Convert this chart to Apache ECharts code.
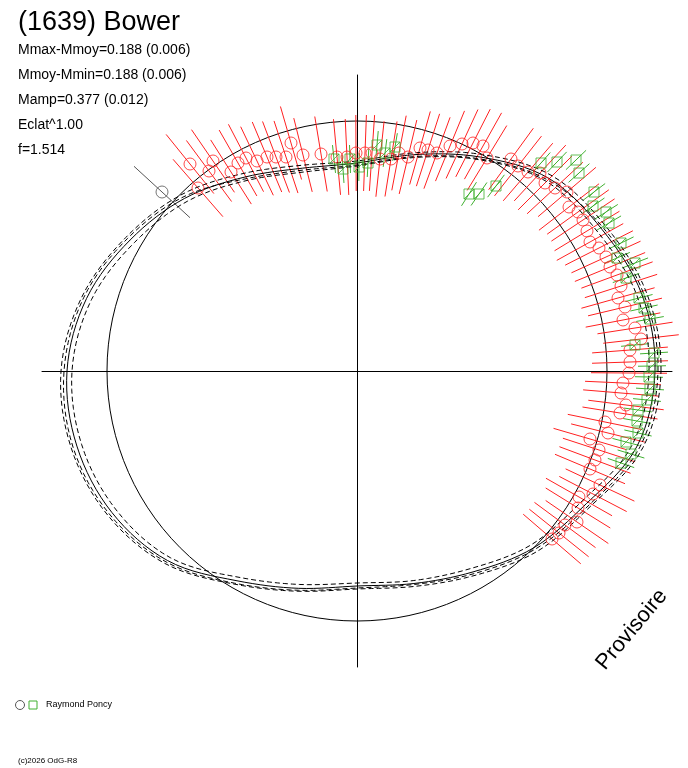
<!DOCTYPE html>
<html><head><meta charset="utf-8">
<script src="https://cdn.jsdelivr.net/npm/echarts@6/dist/echarts.min.js"></script>
<style>html,body{margin:0;padding:0;background:#fff}#c{width:688px;height:768px}</style>
</head><body><div id="c"></div>
<script>
const titleText = "(1639) Bower";
const infoLines = ["Mmax-Mmoy=0.188 (0.006)","Mmoy-Mmin=0.188 (0.006)","Mamp=0.377 (0.012)","Eclat^1.00","f=1.514"];
const observer = "Raymond Poncy";
const copyright = "(c)2026 OdG-R8";
const stamp = "Provisoire";
const circleRadius = 250;
const fitAngles = [0,15,30,45,60,75,90,105,120,135,150,165,180,195,210,225,240,255,270,285,300,315,330,345];
const fitSolid  = [298,295,283,272,247,224,208,210,224,244,262,280,290,290,283,268,242,225,215,220,232,250,265,290];
const fitDashA  = [304,300,288,276,250,226,210,213,228,249,267,285,296,296,288,272,246,228,218,223,236,255,270,296];
const fitDashB  = [292,290,278,268,244,221,205,206,220,240,257,275,285,285,278,264,238,221,212,217,228,246,260,285];
const fitDashC  = [301,297,285,270,245,222,206,208,222,246,265,283,293,294,286,270,245,227,217,221,234,252,268,293];
const redPoints = [[-167,207],[-159,183],[-148,200],[-144,210],[-126,199],[-119,208],[-111,213],[-100,210],[-90,214],[-81,214],[-71,214],[-66,228],[-54,216],[-36,217],[-20,214],[-10,214],[-1,218],[8,218],[15,218],[23,212],[34,212],[42,218],[51,214],[63,223],[71,221],[80,218],[93,225],[105,227],[116,228],[126,225],[130,213],[154,212],[161,205],[171,199],[183,198],[188,188],[198,183],[210,179],[212,164],[221,159],[226,151],[230,140],[233,129],[242,123],[249,114],[253,104],[260,96],[264,85],[261,73],[268,64],[266,51],[278,43],[284,32],[273,21],[273,9],[272,-2],[266,-12],[264,-22],[269,-34],[263,-42],[248,-51],[251,-62],[233,-68],[242,-79],[238,-89],[233,-98],[243,-114],[236,-123],[222,-126],[221,-137],[220,-151],[208,-154],[202,-162],[195,-168]];
const grayPoints = [[-195,179]];
const greenPoints = [[-23,212],[-14,202],[-7,212],[2,204],[11,208],[20,226],[28,218],[38,224],[112,177],[122,177],[139,185],[184,208],[200,209],[219,211],[222,198],[237,179],[236,165],[249,159],[252,148],[264,128],[260,113],[278,108],[269,93],[282,73],[287,63],[293,52],[278,26],[297,18],[295,5],[292,-6],[293,-18],[290,-29],[281,-39],[280,-50],[281,-62],[269,-71],[274,-83],[264,-92]];
const redErr = 38, greenErr = 14;

// closed Catmull-Rom rendering of the fitted radius curve (drawing resolution only)
function polarLoop(radii){
  const n=radii.length, out=[], steps=8;
  for(let i=0;i<n;i++){
    const p0=radii[(i-1+n)%n],p1=radii[i],p2=radii[(i+1)%n],p3=radii[(i+2)%n];
    for(let s=0;s<steps;s++){
      const t=s/steps;
      const r=0.5*((2*p1)+(-p0+p2)*t+(2*p0-5*p1+4*p2-p3)*t*t+(-p0+3*p1-3*p2+p3)*t*t*t);
      const a=(fitAngles[i]+15*t)*Math.PI/180;
      out.push([r*Math.cos(a),r*Math.sin(a)]);
    }
  }
  out.push(out[0]); return out;
}
const circ=[]; for(let i=0;i<=120;i++){const t=i/120*2*Math.PI;circ.push([circleRadius*Math.cos(t),circleRadius*Math.sin(t)]);}
function errSeries(data,err,color){
  return {type:'custom',data:data,silent:true,z:2,renderItem:function(p,api){
    const x=api.value(0),y=api.value(1),r=Math.hypot(x,y);
    const a=api.coord([x*(r-err)/r,y*(r-err)/r]), b=api.coord([x*(r+err)/r,y*(r+err)/r]);
    return {type:'line',shape:{x1:a[0],y1:a[1],x2:b[0],y2:b[1]},style:{stroke:color,lineWidth:1}};
  }};
}
function fitLine(radii,dash){return {type:'line',data:polarLoop(radii),smooth:false,showSymbol:false,silent:true,z:3,
  lineStyle:{color:'#000',width:1,type:dash?[5,3]:'solid'}};}
const chart=echarts.init(document.getElementById('c'));
chart.setOption({
  animation:false,
  grid:{left:42,top:75,width:630,height:592},
  xAxis:{type:'value',min:-315,max:315,axisLine:{onZero:true,lineStyle:{color:'#000'}},axisTick:{show:false},axisLabel:{show:false},splitLine:{show:false}},
  yAxis:{type:'value',min:-296,max:296,axisLine:{onZero:true,lineStyle:{color:'#000'}},axisTick:{show:false},axisLabel:{show:false},splitLine:{show:false}},
  series:[
    {type:'line',data:circ,showSymbol:false,silent:true,lineStyle:{color:'#000',width:1},z:1},
    fitLine(fitSolid,false),fitLine(fitDashA,true),fitLine(fitDashB,true),fitLine(fitDashC,true),
    errSeries(redPoints,redErr,'#ff2020'),
    errSeries(grayPoints,redErr,'#555'),
    errSeries(greenPoints,greenErr,'#40b030'),
    {type:'scatter',data:redPoints,symbol:'circle',symbolSize:12,z:4,itemStyle:{color:'rgba(0,0,0,0)',borderColor:'#ff2020',borderWidth:1}},
    {type:'scatter',data:grayPoints,symbol:'circle',symbolSize:12,z:4,itemStyle:{color:'rgba(0,0,0,0)',borderColor:'#555',borderWidth:1}},
    {type:'scatter',data:greenPoints,symbol:'path://M0,0H10V10H0Z M0,10L10,0',symbolSize:10,z:4,itemStyle:{color:'rgba(0,0,0,0)',borderColor:'#40b030',borderWidth:1}}
  ],
  graphic:[
    {type:'text',left:18,top:9,style:{text:titleText,font:'27px Liberation Sans, Arial',fill:'#000'}},
    ...infoLines.map((t,i)=>({type:'text',left:18,top:43+i*25,style:{text:t,font:'14px Liberation Sans, Arial',fill:'#000'}})),
    {type:'circle',shape:{cx:20,cy:705,r:4.5},style:{fill:'none',stroke:'#555',lineWidth:1}},
    {type:'rect',shape:{x:29,y:701,width:8,height:8},style:{fill:'none',stroke:'#40b030',lineWidth:1}},
    {type:'text',left:46,top:700,style:{text:observer,font:'9px Liberation Sans, Arial',fill:'#000'}},
    {type:'text',left:18,top:757,style:{text:copyright,font:'8px Liberation Sans, Arial',fill:'#000'}},
    {type:'text',x:592,y:660,rotation:50*Math.PI/180,style:{text:stamp,font:'22px Liberation Sans, Arial',fill:'#000'}}
  ]
});
</script></body></html>
